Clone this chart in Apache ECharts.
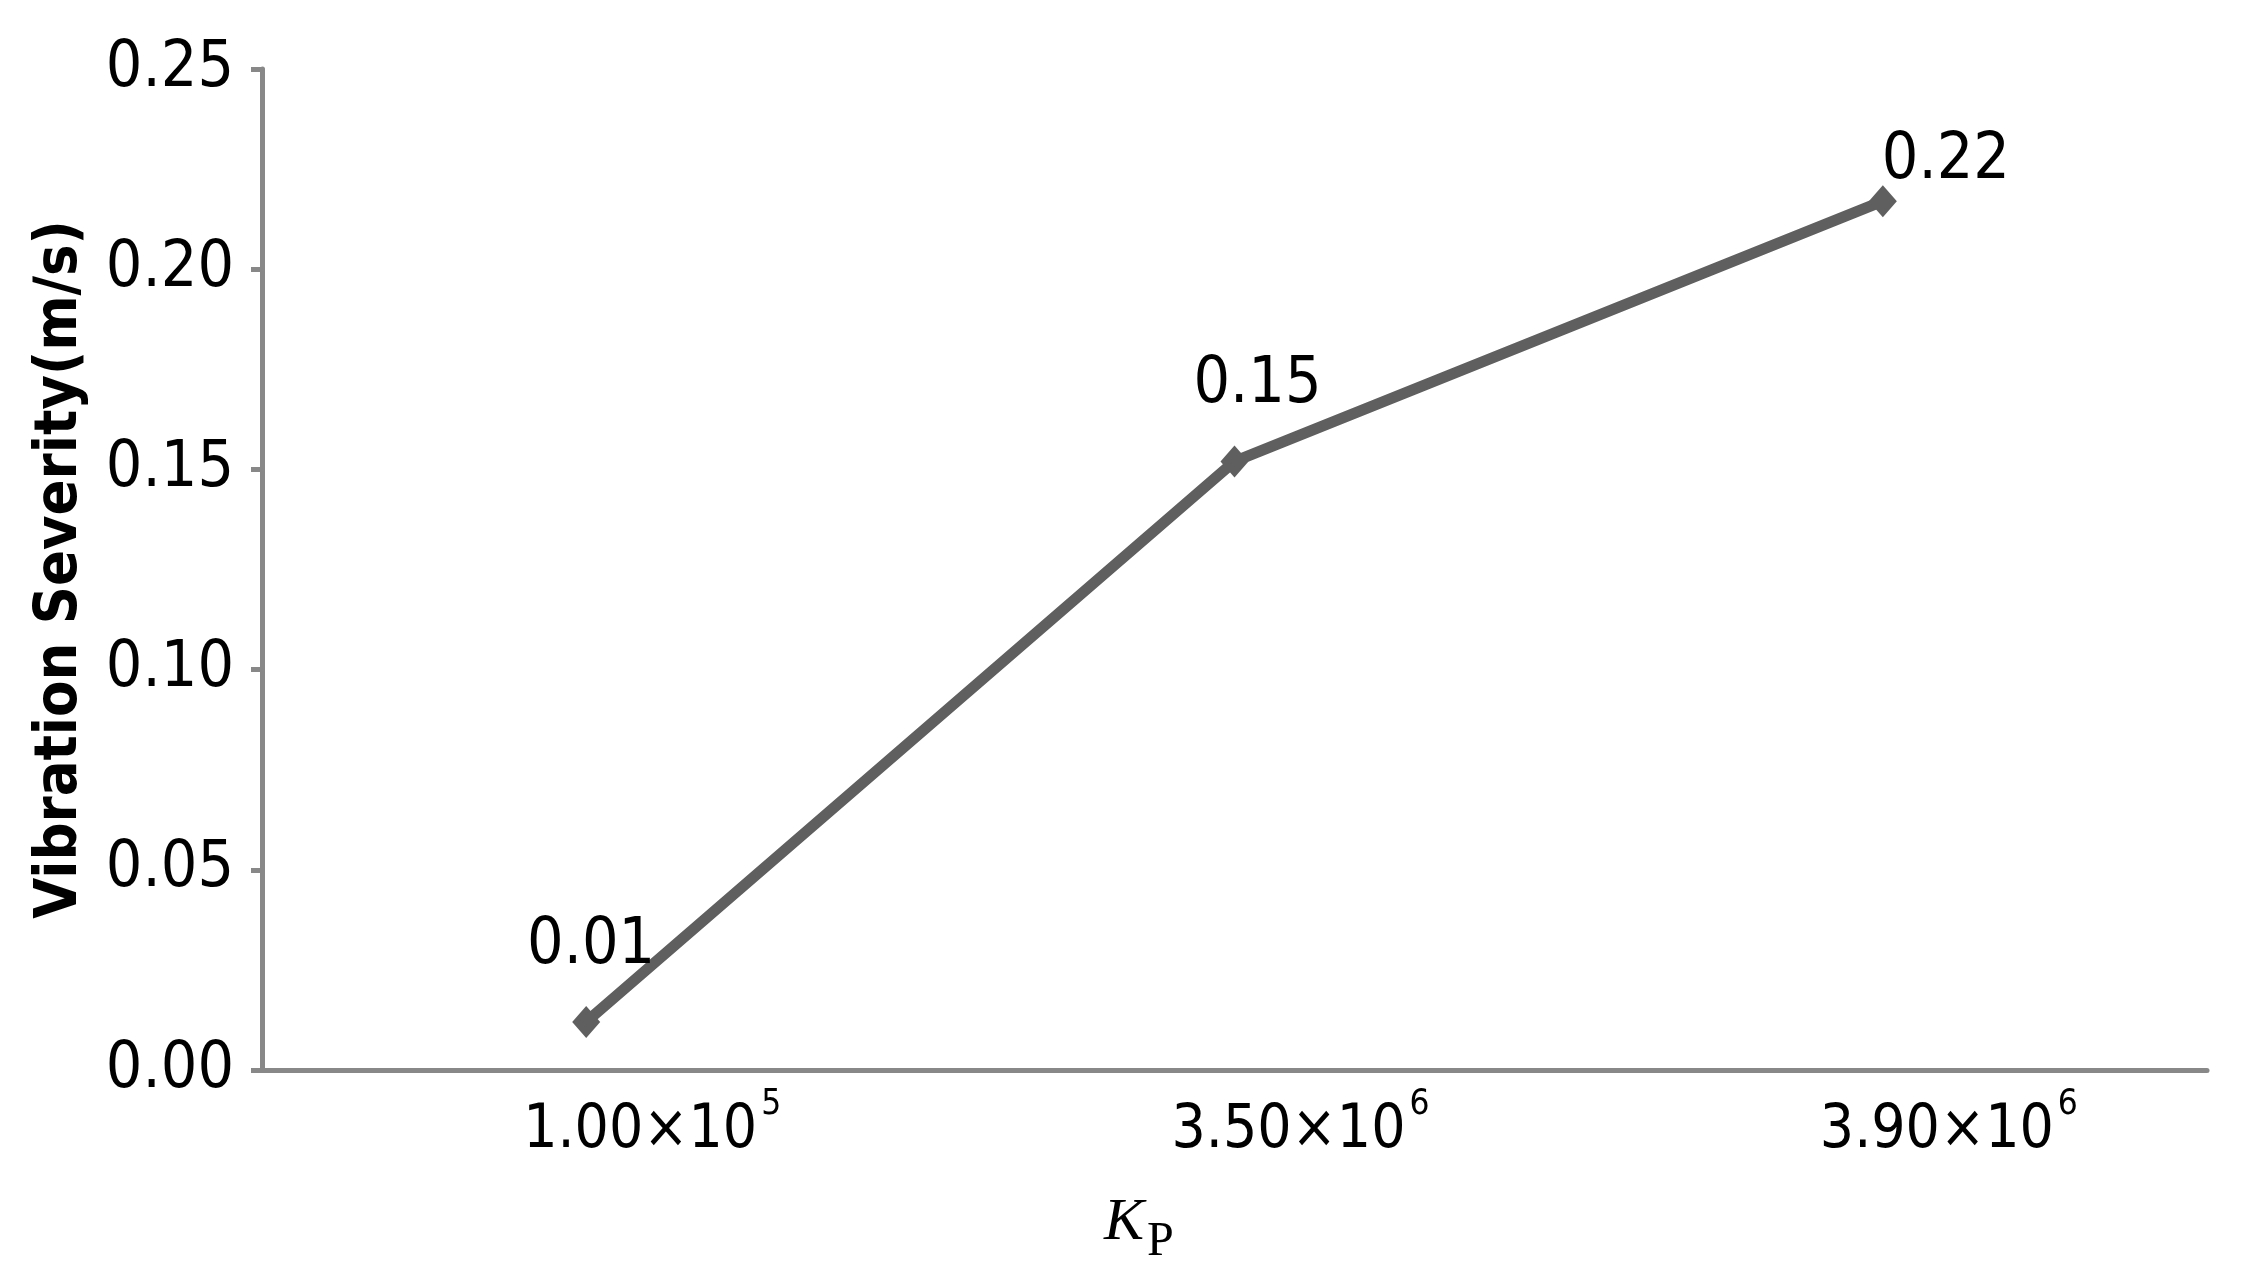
<!DOCTYPE html>
<html>
<head>
<meta charset="utf-8">
<script src="https://cdn.jsdelivr.net/npm/echarts@6/dist/echarts.min.js"></script>
<style>
  html, body { margin: 0; padding: 0; background: #fff; }
  #main { width: 2243px; height: 1288px; }
</style>
</head>
<body>
<div id="main"></div>
<script>
// values
var categories = ['1.00×10', '3.50×10', '3.90×10'];
var exponents = ['5', '6', '6'];
var severity = [0.012, 0.152, 0.217];

var yMin = 0, yMax = 0.25, yStep = 0.05;

var tickFont = 'DejaVu Sans Condensed';
var lineColor = '#5f5f5f';
var axisColor = '#888888';

// label shifts for each point (x, y)
var labelShift = [[5, 0], [23, 0], [63, 36]];

var dom = document.getElementById('main');
var myChart = echarts.init(dom);

var option = {
  backgroundColor: '#ffffff',
  animation: false,
  title: [{
    text: 'K',
    left: 1099,
    top: 1188,
    textStyle: { fontFamily: 'Liberation Serif', fontStyle: 'italic', fontWeight: 'normal', fontSize: 60, color: '#000' }
  }, {
    text: 'P',
    left: 1142,
    top: 1213,
    textStyle: { fontFamily: 'Liberation Serif', fontWeight: 'normal', fontSize: 48, color: '#000' }
  }],
  grid: {
    left: 262,
    right: 36,
    top: 69,
    bottom: 218,
    containLabel: false
  },
  xAxis: {
    type: 'category',
    data: categories,
    boundaryGap: true,
    axisLine: { lineStyle: { color: axisColor, width: 5 } },
    axisTick: { length: 12, lineStyle: { color: axisColor, width: 3 } },
    axisLabel: {
      margin: 17,
      padding: [0, 0, 0, 132],
      formatter: function (val, idx) {
        return '{b|' + val + '}{s|' + exponents[idx] + '}';
      },
      rich: {
        b: { fontFamily: tickFont, fontSize: 60, color: '#000', padding: [14, 0, 0, 0] },
        s: { fontFamily: tickFont, fontSize: 35, color: '#000', verticalAlign: 'top', padding: [0, 0, 0, 4] }
      }
    },
    splitLine: { show: false }
  },
  yAxis: {
    type: 'value',
    min: yMin,
    max: yMax,
    interval: yStep,
    name: 'Vibration Severity(m/s)',
    nameLocation: 'middle',
    nameGap: 172,
    nameTextStyle: {
      fontFamily: tickFont,
      fontWeight: 'bold',
      fontSize: 59,
      color: '#000'
    },
    axisLine: { show: true, lineStyle: { color: axisColor, width: 5 } },
    axisTick: { show: true, length: 11, lineStyle: { color: axisColor, width: 5 } },
    axisLabel: {
      margin: 28,
      fontFamily: tickFont,
      fontSize: 64,
      color: '#000',
      formatter: function (v) { return v.toFixed(2); }
    },
    splitLine: { show: false }
  },
  series: [{
    type: 'line',
    data: severity.map(function (v, i) {
      return {
        value: v,
        label: { offset: [labelShift[i][0], labelShift[i][1]] }
      };
    }),
    symbol: 'diamond',
    symbolSize: [28, 32],
    lineStyle: { color: lineColor, width: 11 },
    itemStyle: { color: lineColor },
    label: {
      show: true,
      position: 'top',
      distance: 28,
      fontFamily: tickFont,
      fontSize: 64,
      color: '#000',
      formatter: function (p) { return p.value.toFixed(2); }
    }
  }]
};

myChart.setOption(option, true);
</script>
</body>
</html>
